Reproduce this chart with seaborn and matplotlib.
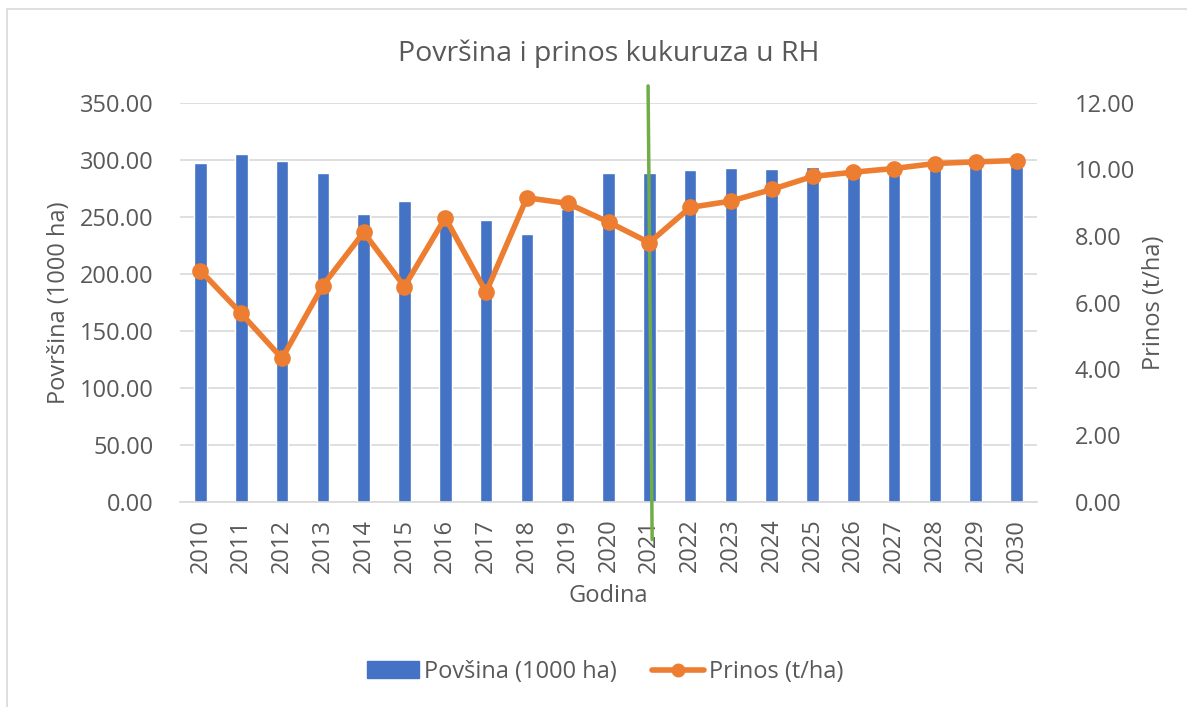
import matplotlib
matplotlib.use("Agg")
import matplotlib.pyplot as plt
import seaborn as sns
import pandas as pd
from matplotlib.patches import Patch
from matplotlib.lines import Line2D

godine = [str(g) for g in range(2010, 2031)]
povrsina = [297.0, 305.5, 299.4, 288.9, 252.9, 264.0, 245.0, 247.4, 235.4, 256.7,
            288.9, 288.3, 291.2, 293.3, 291.8, 293.9, 294.7, 296.0, 297.0, 297.5, 294.7]
prinos = [6.96, 5.67, 4.32, 6.51, 8.11, 6.48, 8.55, 6.31, 9.15, 8.98,
          8.42, 7.80, 8.86, 9.05, 9.40, 9.79, 9.92, 10.03, 10.18, 10.23, 10.27]
oznaka_godina = "2021"

BLUE = "#4472C4"
ORANGE = "#ED7D31"
GREEN = "#70AD47"
GREY = "#595959"
FS = 17

sns.set_style("white")
plt.rcParams["font.family"] = ["Open Sans", "DejaVu Sans"]

df = pd.DataFrame({"Godina": godine, "Povrsina": povrsina, "Prinos": prinos})

fig = plt.figure(figsize=(11.87, 7.07), dpi=100)
ax = fig.add_axes([180 / 1187, 1 - 502 / 707, (1037 - 180) / 1187, (502 - 103) / 707])

sns.barplot(data=df, x="Godina", y="Povrsina", color=BLUE, width=0.31,
            saturation=1, ax=ax, zorder=2)
ax.set_ylim(0, 350)
ax.set_yticks(range(0, 351, 50))
ax.set_yticklabels([f"{v:.2f}" for v in range(0, 351, 50)])
ax.yaxis.grid(True, color="#d9d9d9", linewidth=1.2, zorder=0)
ax.set_axisbelow(True)
ax.set_xlim(-0.5, len(godine) - 0.5)

ax2 = ax.twinx()
sns.pointplot(data=df, x="Godina", y="Prinos", color=ORANGE, ax=ax2,
              markers="o", markersize=9, linewidth=4)
ax2.set_ylim(0, 12)
ax2.set_yticks(range(0, 13, 2))
ax2.set_yticklabels([f"{v:.2f}" for v in range(0, 13, 2)])
ax2.set_xlim(-0.5, len(godine) - 0.5)

for a in (ax, ax2):
    for s in a.spines.values():
        s.set_visible(False)
    a.tick_params(length=0, labelsize=FS, colors=GREY)
ax.tick_params(axis="y", pad=19)
ax2.tick_params(axis="y", pad=27)
ax.spines["bottom"].set_visible(True)
ax.spines["bottom"].set_color("#d9d9d9")
ax.spines["bottom"].set_linewidth(1.2)
ax.tick_params(axis="x", rotation=90, pad=12)

ax.set_xlabel("Godina", fontsize=FS, color=GREY, labelpad=8)
ax.set_ylabel("Površina (1000 ha)", fontsize=FS, color=GREY, labelpad=6)
ax2.set_ylabel("Prinos (t/ha)", fontsize=FS, color=GREY, labelpad=5)
ax.set_title("Površina i prinos kukuruza u RH", fontsize=20.5, color=GREY, pad=30)

# green marker line at 2021
xi = godine.index(oznaka_godina)
ax.plot([xi - 0.03, xi + 0.07], [365, -33], color=GREEN, linewidth=2.5,
        clip_on=False, zorder=5)

handles = [Patch(color=BLUE, label="Povšina (1000 ha)"),
           Line2D([0], [0], color=ORANGE, linewidth=4, marker="o", markersize=9,
                  label="Prinos (t/ha)")]
fig.legend(handles=handles, loc="center", bbox_to_anchor=(0.51, 1 - 672 / 707),
           ncol=2, frameon=False, fontsize=FS, labelcolor=GREY,
           handlelength=2.2, handleheight=0.7, columnspacing=1.5, handletextpad=0.2)

# chart area border (left and top edges visible)
fig.add_artist(Line2D([7 / 1187, 7 / 1187], [0, 1 - 9 / 707], transform=fig.transFigure,
                      color="#d9d9d9", linewidth=1.2))
fig.add_artist(Line2D([7 / 1187, 1], [1 - 9 / 707, 1 - 9 / 707], transform=fig.transFigure,
                      color="#d9d9d9", linewidth=1.2))

fig.savefig("out.png", dpi=100)
